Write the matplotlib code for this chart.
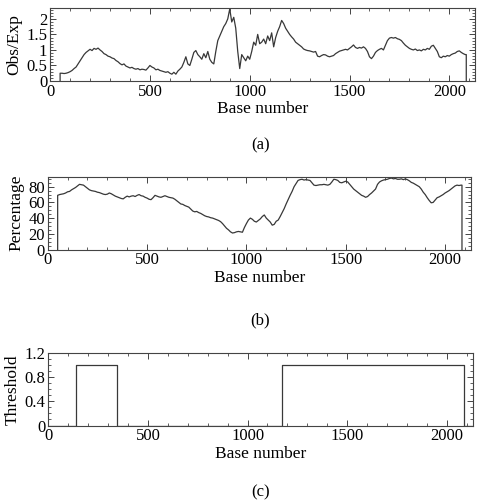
import numpy as np
import matplotlib
matplotlib.use("Agg")
import matplotlib.pyplot as plt
from matplotlib.ticker import MultipleLocator, FuncFormatter

plt.rcParams['font.family'] = ['Liberation Serif', 'DejaVu Serif']

# window positions (base number), every 10 bases from 50 to 2080
base = np.arange(50, 2090, 10)
seq_end = 2085

# (a) observed/expected CpG ratio
obs_exp = [
    0.25, 0.25, 0.24, 0.25, 0.27, 0.30, 0.34, 0.40, 0.45, 0.55,
    0.65, 0.75, 0.85, 0.92, 0.97, 1.02, 0.98, 1.05, 1.02, 1.06,
    1.00, 0.95, 0.88, 0.85, 0.80, 0.78, 0.74, 0.72, 0.66, 0.62,
    0.56, 0.52, 0.55, 0.48, 0.45, 0.42, 0.44, 0.40, 0.38, 0.40,
    0.36, 0.38, 0.37, 0.35, 0.42, 0.50, 0.45, 0.42, 0.36, 0.38,
    0.34, 0.32, 0.30, 0.28, 0.30, 0.25, 0.22, 0.28, 0.22, 0.32,
    0.38, 0.45, 0.60, 0.78, 0.55, 0.50, 0.70, 0.92, 0.98, 0.85,
    0.78, 0.70, 0.88, 0.75, 0.95, 0.70, 0.60, 0.55, 0.95, 1.30,
    1.45, 1.60, 1.75, 1.85, 2.00, 2.32, 1.90, 2.05, 1.70, 0.95,
    0.40, 0.85, 0.75, 0.65, 0.80, 0.70, 0.95, 1.25, 1.15, 1.50,
    1.20, 1.25, 1.35, 1.20, 1.45, 1.30, 1.55, 1.10, 1.40, 1.60,
    1.75, 1.95, 1.85, 1.70, 1.60, 1.50, 1.42, 1.35, 1.25, 1.20,
    1.15, 1.10, 1.03, 1.00, 0.98, 0.97, 0.95, 0.93, 0.95, 0.80,
    0.78, 0.82, 0.85, 0.84, 0.80, 0.78, 0.80, 0.82, 0.88, 0.92,
    0.96, 0.98, 1.00, 1.02, 1.00, 1.05, 1.10, 1.16, 1.08, 1.05,
    1.08, 1.06, 1.10, 1.05, 0.95, 0.78, 0.72, 0.80, 0.92, 0.98,
    1.02, 1.05, 1.00, 1.15, 1.30, 1.38, 1.40, 1.38, 1.40, 1.36,
    1.34, 1.30, 1.22, 1.15, 1.10, 1.05, 1.02, 1.00, 1.03, 0.98,
    1.00, 0.97, 1.02, 1.00, 1.05, 1.02, 1.12, 1.15, 1.05, 0.95,
    0.78, 0.75, 0.80, 0.78, 0.82, 0.80, 0.85, 0.88, 0.90, 0.95,
    0.97, 0.92, 0.88, 0.85,
]

# (b) GC percentage
gc_pct = [
    69, 70, 70.5, 71, 72, 73.5, 74, 76, 77.5, 79,
    81, 83, 82.5, 82, 80, 78, 76, 75, 74.5, 74,
    73, 72.5, 71.5, 70.5, 70, 70.5, 72, 71, 69.5, 68,
    67, 66, 65, 64.5, 66.5, 68, 67, 68, 68.5, 67.5,
    69, 70, 68.5, 68, 66.5, 65.5, 64, 63.5, 66, 69,
    68, 67, 66.5, 67.5, 68.5, 67.5, 66.5, 66, 65.5, 64,
    62, 60, 58, 57.5, 56, 55, 54, 51.5, 49, 48,
    48.5, 47, 46, 44.5, 43, 42, 41.5, 40.5, 40, 39,
    38, 37, 35.5, 33, 30, 27, 25, 22.5, 21, 21.5,
    22.5, 23, 22.5, 22, 28, 33, 37.5, 40, 38.5, 36,
    35, 37, 39, 42, 44, 40, 37.5, 35, 31, 32,
    36, 37.5, 42, 47, 52, 58, 63.5, 69, 74, 80,
    84, 88, 89, 89.5, 88.5, 89, 88.5, 88, 85, 82,
    81.5, 82, 82.5, 82.5, 83, 82.5, 82, 83, 86, 89.5,
    89, 88, 85.5, 85, 86, 87, 86, 83, 80, 77,
    75, 73, 71, 69, 68, 66.5, 67.5, 70, 72, 74.5,
    77, 83, 86, 87.5, 88.5, 89, 89.5, 90.5, 91, 90,
    90.5, 89.5, 89.5, 90, 89, 90, 89, 87.5, 85.5, 84.5,
    83, 81.5, 80, 77, 73, 70, 66, 62.5, 59.5, 60,
    63, 66, 67, 68.5, 70, 72, 73.5, 75, 77, 79,
    81, 82, 81.5, 82,
]

# (c) CpG island threshold (on/off)
thresh_x = [0, 137, 346, 1175, 2085, 2130]
thresh_y = [0, 1, 0, 1, 0, 0]

line_col = '#383838'
fmt = FuncFormatter(lambda v, p: '%g' % round(v, 3))


def framed(vals):
    # close the trace with vertical edges at the sequence start and end
    xs = np.concatenate([[base[0]], base, [seq_end, seq_end]])
    ys = np.concatenate([[0.0], vals, [vals[-1], 0.0]])
    return xs, ys


def style_axis(ax, ylim, ymaj, ymin, ylabel):
    ax.set_xlim(0, 2130)
    ax.set_ylim(*ylim)
    ax.xaxis.set_major_locator(MultipleLocator(500))
    ax.xaxis.set_minor_locator(MultipleLocator(100))
    ax.yaxis.set_major_locator(MultipleLocator(ymaj))
    ax.yaxis.set_minor_locator(MultipleLocator(ymin))
    ax.yaxis.set_major_formatter(fmt)
    ax.tick_params(which='both', direction='in', top=True, right=True,
                   labelsize=12, color='#444444', pad=2)
    ax.tick_params(which='major', length=4, width=0.7)
    ax.tick_params(which='minor', length=2, width=0.6)
    for s in ax.spines.values():
        s.set_linewidth(0.8)
        s.set_color('#444444')
    ax.set_xlabel('Base number', fontsize=12.5, labelpad=1)
    ax.set_ylabel(ylabel, fontsize=12.5, labelpad=3)


fig = plt.figure(figsize=(4.82, 5.0), dpi=100)

ax1 = fig.add_axes([0.104, 0.838, 0.882, 0.146])
ax1.plot(*framed(obs_exp), color=line_col, lw=0.9)
style_axis(ax1, (0, 2.35), 0.5, 0.1, 'Obs/Exp')
fig.text(0.54, 0.71, '(a)', ha='center', va='center', fontsize=12)

ax2 = fig.add_axes([0.099, 0.501, 0.878, 0.146])
ax2.plot(*framed(gc_pct), color=line_col, lw=0.9)
style_axis(ax2, (0, 93), 20, 5, 'Percentage')
fig.text(0.54, 0.36, '(b)', ha='center', va='center', fontsize=12)

ax3 = fig.add_axes([0.100, 0.149, 0.881, 0.145])
ax3.plot(thresh_x, thresh_y, drawstyle='steps-post', color=line_col, lw=0.9)
style_axis(ax3, (0, 1.2), 0.4, 0.1, 'Threshold')
fig.text(0.54, 0.016, '(c)', ha='center', va='center', fontsize=12)

fig.savefig('out.png', dpi=100)
